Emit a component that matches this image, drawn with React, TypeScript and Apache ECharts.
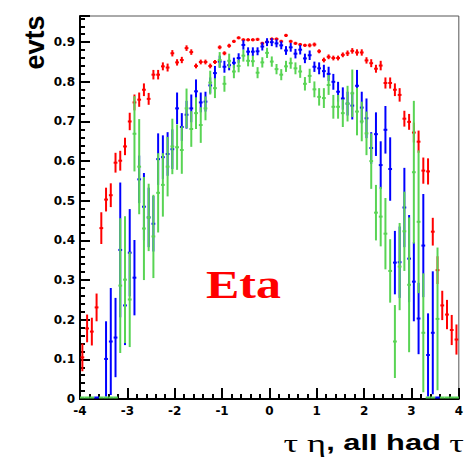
import React, { useEffect, useRef } from "react";
import * as echarts from "echarts";

// bin centres of the eta histogram (bin width 0.1)
const etaBins = [
  -3.95, -3.85, -3.75, -3.65, -3.55, -3.45, -3.35, -3.25, -3.15, -3.05,
  -2.95, -2.85, -2.75, -2.65, -2.55, -2.45, -2.35, -2.25, -2.15, -2.05,
  -1.95, -1.85, -1.75, -1.65, -1.55, -1.45, -1.35, -1.25, -1.15, -1.05,
  -0.95, -0.85, -0.75, -0.65, -0.55, -0.45, -0.35, -0.25, -0.15, -0.05,
  0.05, 0.15, 0.25, 0.35, 0.45, 0.55, 0.65, 0.75, 0.85, 0.95,
  1.05, 1.15, 1.25, 1.35, 1.45, 1.55, 1.65, 1.75, 1.85, 1.95,
  2.05, 2.15, 2.25, 2.35, 2.45, 2.55, 2.65, 2.75, 2.85, 2.95,
  3.05, 3.15, 3.25, 3.35, 3.45, 3.55, 3.65, 3.75, 3.85, 3.95,
];

const redValues = [
  0.105, 0.178, 0.17, 0.231, 0.431, 0.503, 0.514, 0.596, 0.601, 0.637,
  0.7, 0.748, 0.755, 0.78, 0.757, 0.818, 0.818, 0.839, 0.836, 0.872,
  0.849, 0.855, 0.885, 0.875, 0.84, 0.85, 0.85, 0.84, 0.85, 0.887,
  0.872, 0.891, 0.902, 0.911, 0.906, 0.906, 0.906, 0.907, 0.897, 0.901,
  0.908, 0.908, 0.902, 0.917, 0.902, 0.897, 0.894, 0.892, 0.892, 0.894,
  0.877, 0.855, 0.863, 0.86, 0.86, 0.868, 0.872, 0.878, 0.874, 0.874,
  0.854, 0.847, 0.833, 0.841, 0.797, 0.797, 0.78, 0.767, 0.707, 0.699,
  0.672, 0.649, 0.576, 0.574, 0.422, 0.325, 0.236, 0.213, 0.174, 0.15,
];
const redErrors = [
  0.035, 0.035, 0.035, 0.035, 0.04, 0.03, 0.03, 0.025, 0.025, 0.022,
  0.022, 0.02, 0.018, 0.016, 0.015, 0.012, 0.012, 0.01, 0.01, 0.008,
  0.008, 0.008, 0.007, 0.007, 0.006, 0.006, 0.006, 0.006, 0.005, 0.005,
  0.005, 0.005, 0.004, 0.004, 0.004, 0.004, 0.004, 0.004, 0.004, 0.004,
  0.004, 0.004, 0.004, 0.004, 0.004, 0.004, 0.004, 0.004, 0.005, 0.005,
  0.005, 0.006, 0.006, 0.006, 0.006, 0.006, 0.007, 0.007, 0.008, 0.008,
  0.008, 0.01, 0.01, 0.012, 0.014, 0.014, 0.016, 0.017, 0.02, 0.02,
  0.025, 0.028, 0.033, 0.033, 0.035, 0.035, 0.037, 0.037, 0.038, 0.038,
];

const blueValues = [
  null, null, null, 0, null, 0.101, 0.145, 0.155, 0.376, 0.236,
  0.369, 0.306, 0.554, 0.485, 0.458, 0.442, 0.605, 0.61, 0.618, 0.63,
  0.733, 0.686, 0.717, 0.733, 0.776, 0.748, 0.75, 0.791, 0.822, 0.851,
  0.838, 0.842, 0.848, 0.86, 0.893, 0.876, 0.876, 0.877, 0.889, 0.9,
  0.9, 0.897, 0.892, 0.879, 0.887, 0.871, 0.881, 0.859, 0.867, 0.838,
  0.834, 0.827, 0.82, 0.8, 0.775, 0.758, 0.745, 0.74, 0.79, 0.735,
  0.708, 0.633, 0.668, 0.59, 0.679, 0.58, 0.344, 0.345, 0.483, 0.354,
  0.296, 0.203, 0.387, 0.111, 0.167, 0, null, null, null, null,
];
const blueErrors = [
  0, 0, 0, 0, 0, 0.095, 0.135, 0.1, 0.17, 0.1,
  0.11, 0.095, 0.06, 0.085, 0.075, 0.07, 0.065, 0.055, 0.055, 0.05,
  0.04, 0.035, 0.035, 0.035, 0.03, 0.025, 0.025, 0.02, 0.018, 0.015,
  0.015, 0.013, 0.013, 0.012, 0.012, 0.011, 0.011, 0.01, 0.01, 0.01,
  0.01, 0.01, 0.01, 0.011, 0.011, 0.012, 0.012, 0.012, 0.012, 0.013,
  0.015, 0.016, 0.018, 0.02, 0.025, 0.028, 0.03, 0.035, 0.04, 0.04,
  0.05, 0.04, 0.055, 0.06, 0.06, 0.08, 0.08, 0.09, 0.1, 0.11,
  0.1, 0.09, 0.13, 0.105, 0.155, 0, 0, 0, 0, 0,
];

const greenValues = [
  0, 0, 0, null, 0, 0, 0, 0, 0.286, 0.301,
  0.251, 0.669, 0.586, 0.43, 0.458, 0.41, 0.52, 0.54, 0.586, 0.637,
  0.635, 0.628, 0.733, 0.681, 0.721, 0.691, 0.733, 0.798, 0.784, 0.855,
  0.795, 0.853, 0.826, 0.84, 0.866, 0.853, 0.852, 0.823, 0.849, 0.873,
  0.851, 0.832, 0.818, 0.839, 0.847, 0.834, 0.826, 0.795, 0.815, 0.781,
  0.762, 0.759, 0.792, 0.737, 0.737, 0.721, 0.745, 0.771, 0.725, 0.7,
  0.67, 0.6, 0.47, 0.46, 0.417, 0.323, 0.145, 0.334, 0.423, 0.288,
  0.572, 0.447, 0.167, 0, 0, 0.202, 0, 0, 0, 0,
];
const greenErrors = [
  0, 0, 0, 0, 0, 0, 0, 0, 0.17, 0.16,
  0.12, 0.095, 0.12, 0.13, 0.085, 0.105, 0.1, 0.08, 0.075, 0.07,
  0.057, 0.06, 0.05, 0.045, 0.04, 0.045, 0.03, 0.03, 0.025, 0.02,
  0.02, 0.018, 0.017, 0.016, 0.015, 0.014, 0.014, 0.014, 0.013, 0.013,
  0.013, 0.013, 0.014, 0.014, 0.014, 0.015, 0.016, 0.017, 0.018, 0.02,
  0.022, 0.025, 0.025, 0.03, 0.03, 0.035, 0.045, 0.06, 0.06, 0.05,
  0.055, 0.07, 0.07, 0.075, 0.09, 0.08, 0.092, 0.11, 0.1, 0.17,
  0.18, 0.18, 0.15, 0, 0, 0.18, 0, 0, 0, 0,
];

const yTickLabels = ["0", "0.1", "0.2", "0.3", "0.4", "0.5", "0.6", "0.7", "0.8", "0.9"];

const RED = "#ff0000";
const BLUE = "#0000ff";
const GREEN = "#59d454";

function toData(values: (number | null)[], errors: number[]) {
  const out: number[][] = [];
  values.forEach((v, i) => {
    if (v !== null) out.push([etaBins[i], v, errors[i]]);
  });
  return out;
}

function makeRenderItem(color: string) {
  return (params: any, api: any) => {
    const x = api.value(0);
    const y = api.value(1);
    const e = api.value(2);
    const style = { stroke: color, lineWidth: 2, fill: null };
    const children: any[] = [];
    if (y === 0 && e === 0) {
      const a = api.coord([x - 0.05, 0]);
      const b = api.coord([x + 0.05, 0]);
      children.push({
        type: "line",
        shape: { x1: a[0], y1: a[1] - 1.5, x2: b[0], y2: b[1] - 1.5 },
        style,
      });
    } else {
      const lo = api.coord([x, Math.max(0, y - e)]);
      const hi = api.coord([x, y + e]);
      const l = api.coord([x - 0.04, y]);
      const r = api.coord([x + 0.04, y]);
      children.push({
        type: "line",
        shape: { x1: lo[0], y1: lo[1], x2: hi[0], y2: hi[1] },
        style,
      });
      children.push({
        type: "line",
        shape: { x1: l[0], y1: l[1], x2: r[0], y2: r[1] },
        style,
      });
    }
    return { type: "group", children };
  };
}

const tickFont = { fontFamily: "DejaVu Sans", fontWeight: "bold" as const, fontSize: 12, color: "#000" };

export default function App() {
  const ref = useRef<HTMLDivElement>(null);
  useEffect(() => {
    if (!ref.current) return;
    const chart = echarts.init(ref.current, null, { renderer: "svg" });
    const seriesDefs = [
      { name: "red", color: RED, values: redValues, errors: redErrors },
      { name: "blue", color: BLUE, values: blueValues, errors: blueErrors },
      { name: "green", color: GREEN, values: greenValues, errors: greenErrors },
    ];
    chart.setOption({
      animation: false,
      backgroundColor: "#ffffff",
      grid: {
        left: 80,
        right: 3,
        top: 16,
        bottom: 58,
        show: true,
        borderColor: "#555",
        borderWidth: 1,
        backgroundColor: "transparent",
      },
      xAxis: [
        {
          type: "value",
          min: -4,
          max: 4,
          interval: 1,
          position: "bottom",
          axisLine: { show: true, onZero: false, lineStyle: { color: "#000", width: 2 } },
          axisTick: { show: true, inside: true, length: 11, lineStyle: { color: "#000", width: 2 } },
          axisLabel: { ...tickFont, margin: 6 },
          splitLine: { show: false },
        },
        {
          type: "value",
          min: -4,
          max: 4,
          interval: 0.2,
          position: "bottom",
          offset: 0,
          axisLine: { show: false, onZero: false },
          axisTick: { show: true, inside: true, length: 5, lineStyle: { color: "#000", width: 2 } },
          axisLabel: { show: false },
          splitLine: { show: false },
        },
      ],
      yAxis: [
        {
          type: "value",
          min: 0,
          max: 0.966,
          interval: 0.1,
          position: "left",
          axisLine: { show: true, onZero: false, lineStyle: { color: "#000", width: 2 } },
          axisTick: { show: true, inside: true, length: 10, lineStyle: { color: "#000", width: 2 } },
          axisLabel: {
            ...tickFont,
            margin: 5,
            formatter: (v: number) => {
              const k = Math.round(v * 10);
              if (Math.abs(v * 10 - k) > 1e-6 || k < 0 || k >= yTickLabels.length) return "";
              return yTickLabels[k];
            },
          },
          splitLine: { show: false },
        },
        {
          type: "value",
          min: 0,
          max: 0.966,
          interval: 0.02,
          position: "left",
          offset: 0,
          axisLine: { show: false, onZero: false },
          axisTick: { show: true, inside: true, length: 5, lineStyle: { color: "#000", width: 2 } },
          axisLabel: { show: false },
          splitLine: { show: false },
        },
      ],
      series: seriesDefs.map((s) => ({
        type: "custom",
        name: s.name,
        xAxisIndex: 0,
        yAxisIndex: 0,
        clip: false,
        encode: { x: 0, y: 1 },
        renderItem: makeRenderItem(s.color),
        data: toData(s.values, s.errors),
      })),
      graphic: [
        {
          type: "text",
          x: 35,
          y: 42.5,
          rotation: Math.PI / 2,
          style: {
            text: "evts",
            font: 'bold 27px "Liberation Sans", Arial, sans-serif',
            fill: "#000",
            align: "center",
            verticalAlign: "middle",
          },
        },
        {
          type: "text",
          x: 464,
          y: 443,
          scaleX: 1.4,
          style: {
            text: "{s|τ η}{b|, all had }{s|τ}",
            align: "right",
            verticalAlign: "middle",
            fill: "#000",
            rich: {
              s: { fontFamily: "Liberation Serif", fontSize: 26, fill: "#000" },
              b: { fontFamily: "Liberation Sans", fontWeight: "bold", fontSize: 22, fill: "#000" },
            },
          },
        },
        {
          type: "text",
          x: 206,
          y: 285,
          scaleX: 1.25,
          style: {
            text: "Eta",
            font: 'bold 40px "Liberation Serif", "Times New Roman", serif',
            fill: RED,
            align: "left",
            verticalAlign: "middle",
          },
        },
      ],
    });
    return () => chart.dispose();
  }, []);
  return (
    <div
      ref={ref}
      style={{ position: "absolute", left: 0, top: 0, width: 466, height: 457, background: "#fff" }}
    />
  );
}
